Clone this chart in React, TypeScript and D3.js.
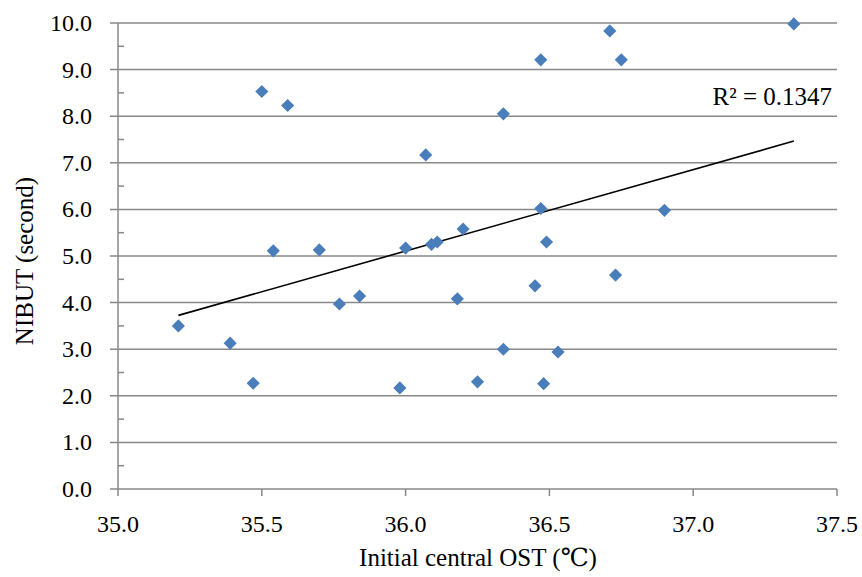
import React from "react";
import * as d3 from "d3";

const ostValues: number[] = [
  35.21, 35.39, 35.47, 35.50, 35.54, 35.59, 35.70, 35.77, 35.84, 35.98,
  36.00, 36.07, 36.09, 36.11, 36.18, 36.20, 36.25, 36.34, 36.34, 36.45,
  36.47, 36.47, 36.48, 36.49, 36.53, 36.71, 36.73, 36.75, 36.90, 37.35,
];
const nibutValues: number[] = [
  3.50, 3.13, 2.27, 8.53, 5.11, 8.23, 5.13, 3.97, 4.14, 2.17,
  5.17, 7.17, 5.25, 5.30, 4.08, 5.58, 2.30, 3.00, 8.05, 4.36,
  9.21, 6.02, 2.26, 5.30, 2.94, 9.83, 4.59, 9.21, 5.98, 9.98,
];
const xTicks: number[] = [35.0, 35.5, 36.0, 36.5, 37.0, 37.5];
const yTicks: number[] = [0, 1, 2, 3, 4, 5, 6, 7, 8, 9, 10];
const yMinorTicks: number[] = [0.5, 1.5, 2.5, 3.5, 4.5, 5.5, 6.5, 7.5, 8.5, 9.5];
const r2Label = "R² = 0.1347";
const xTitle = "Initial central OST (℃)";
const yTitle = "NIBUT (second)";

export default function App() {
  const W = 862, H = 577;
  const left = 118, right = 837, top = 23, bottom = 489;
  const x = d3.scaleLinear().domain([35, 37.5]).range([left, right]);
  const y = d3.scaleLinear().domain([0, 10]).range([bottom, top]);
  const grid = "#888888";
  const fontStyle = { fontFamily: "Liberation Serif, Tinos, Times New Roman, DejaVu Serif, serif" };

  const pts = ostValues.map((v, i) => ({ x: v, y: nibutValues[i] }));
  const mx = d3.mean(ostValues)!;
  const my = d3.mean(nibutValues)!;
  let sxy = 0, sxx = 0;
  pts.forEach((p) => {
    sxy += (p.x - mx) * (p.y - my);
    sxx += (p.x - mx) * (p.x - mx);
  });
  const slope = sxy / sxx;
  const intercept = my - slope * mx;
  const [xmin, xmax] = d3.extent(ostValues) as [number, number];
  const line = d3.line<number>().x((d) => x(d)).y((d) => y(intercept + slope * d));

  const diamond = d3.symbol().type(d3.symbolDiamond2).size(110)();

  return (
    <svg width={W} height={H} style={{ display: "block", position: "absolute", left: 0, top: 0 }}>
      <rect width={W} height={H} fill="#fff" />
      {yTicks.map((t) => (
        <line key={"g" + t} x1={left - 8} x2={right} y1={y(t)} y2={y(t)} stroke={grid} strokeWidth={1.5} />
      ))}
      {yMinorTicks.map((t) => (
        <line key={"m" + t} x1={left} x2={left + 6} y1={y(t)} y2={y(t)} stroke={grid} strokeWidth={1.5} />
      ))}
      <line x1={left} x2={left} y1={top} y2={bottom} stroke={grid} strokeWidth={1.5} />
      {xTicks.map((t) => (
        <line key={"xt" + t} x1={x(t)} x2={x(t)} y1={bottom} y2={bottom + 7} stroke={grid} strokeWidth={1.5} />
      ))}
      <g style={fontStyle} fill="#000">
        {yTicks.map((t) => (
          <text key={"yl" + t} x={92} y={y(t) + 8} textAnchor="end" fontSize={24}>
            {t.toFixed(1)}
          </text>
        ))}
        {xTicks.map((t) => (
          <text key={"xl" + t} x={x(t)} y={532} textAnchor="middle" fontSize={24}>
            {t.toFixed(1)}
          </text>
        ))}
        <text x={832} y={105} textAnchor="end" fontSize={25}>
          {r2Label}
        </text>
        <text x={478} y={566} textAnchor="middle" fontSize={25}>
          {xTitle}
        </text>
        <text transform={`translate(33,${261}) rotate(-90)`} textAnchor="middle" fontSize={25}>
          {yTitle}
        </text>
      </g>
      <path d={line([xmin, xmax]) || ""} stroke="#000" strokeWidth={1.6} fill="none" />
      {pts.map((p, i) => (
        <path key={"p" + i} d={diamond || ""} transform={`translate(${x(p.x)},${y(p.y)})`} fill="#4a7ebb" />
      ))}
    </svg>
  );
}
